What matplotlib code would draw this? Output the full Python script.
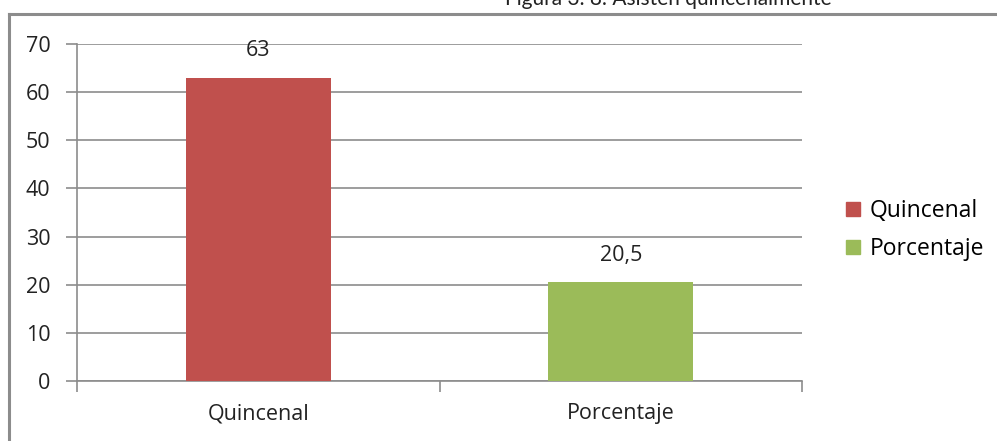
import matplotlib.pyplot as plt
from matplotlib.lines import Line2D

categories = ['Quincenal', 'Porcentaje']
values = [63, 20.5]
value_labels = ['63', '20,5']
colors = ['#c0504d', '#9bbb59']
title = 'Figura 3. 8: Asisten quincenalmente'

plt.rcParams['font.family'] = ['Open Sans', 'DejaVu Sans']

fig = plt.figure(figsize=(9.97, 4.41), dpi=100)
ax = fig.add_axes([77 / 997, 1 - 381 / 441, (802 - 77) / 997, (381 - 44) / 441])

x = [0.5, 1.5]
bars = ax.bar(x, values, width=0.4, color=colors, zorder=3)
for xi, v, lab in zip(x, values, value_labels):
    ax.text(xi, v + 3.4, lab, ha='center', va='bottom', fontsize=15.5, color='#222222')

ax.set_xlim(0, 2)
ax.set_ylim(0, 70)
ax.set_yticks(range(0, 71, 10))
ax.yaxis.grid(True, color='#8c8c8c', linewidth=1.2)
ax.set_axisbelow(True)
ax.set_xticks([0, 1, 2])
ax.set_xticklabels([])
ax.set_xticks(x, minor=True)
ax.set_xticklabels(categories, minor=True)
ax.tick_params(axis='x', which='minor', length=0, pad=16, labelsize=15.5, labelcolor='#222222')
ax.tick_params(axis='x', which='major', length=8, color='#8c8c8c', width=1.2)
ax.tick_params(axis='y', length=8, color='#8c8c8c', width=1.2, labelsize=15.5, labelcolor='#222222', pad=11)
for side in ['top', 'right']:
    ax.spines[side].set_visible(False)
for side in ['left', 'bottom']:
    ax.spines[side].set_color('#8c8c8c')
    ax.spines[side].set_linewidth(1.2)

handles = [Line2D([], [], marker='s', linestyle='', markersize=10.5, color=c) for c in colors]
fig.legend(handles, categories, loc='upper left', bbox_to_anchor=(832 / 997, 1 - 190 / 441),
           frameon=False, fontsize=16.5, handletextpad=0.25, labelspacing=0.6,
           handlelength=1.0, borderaxespad=0)

# outer chart frame, only top and left edges fall inside the canvas
fig.add_artist(Line2D([8.5 / 997, 8.5 / 997], [0, 1 - 13.5 / 441], transform=fig.transFigure,
                      color='#8c8c8c', linewidth=2.2))
fig.add_artist(Line2D([8.5 / 997, 1], [1 - 13.5 / 441, 1 - 13.5 / 441], transform=fig.transFigure,
                      color='#8c8c8c', linewidth=2.2))
fig.text(668 / 997, 1 + 1 / 441, title, ha='center', va='center', fontsize=15,
         family=['Lato', 'DejaVu Sans'], color='#222222')

fig.savefig('out.png', dpi=100, facecolor='white')
